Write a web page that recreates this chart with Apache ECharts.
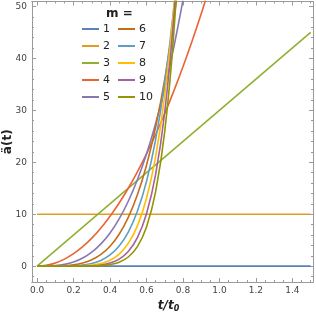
<!DOCTYPE html>
<html><head><meta charset="utf-8">
<script src="https://cdn.jsdelivr.net/npm/echarts@6/dist/echarts.min.js"></script>
<style>html,body{margin:0;padding:0;background:#fff}#c{width:316px;height:315px}</style>
</head><body><div id="c"></div>
<script>
const seriesNames = ['1','2','3','4','5','6','7','8','9','10'];
const colors = ['#5E81B5','#E19C24','#8FB032','#EB6235','#8778B3','#C56E1A','#5D9EC7','#FFBF00','#A5609D','#929600'];
const tFlat = [0, 1.5];
const m1 = [0, 0];
const m2 = [10, 10];
const m3 = [0, 45];
const t = [0,0.05,0.1,0.15,0.2,0.25,0.3,0.35,0.4,0.45,0.5,0.55,0.6,0.65,0.7,0.75,0.8,0.85,0.9,0.95];
const m4 = [0,0.15,0.6,1.35,2.4,3.75,5.4,7.35,9.6,12.15,15,18.15,21.6,25.35,29.4,33.75,38.4,43.35,48.6,54.15];
const m5 = [0,0.01,0.1,0.34,0.8,1.56,2.7,4.29,6.4,9.11,12.5,16.64,21.6,27.46,34.3,42.19,51.2];
const m6 = [0,0,0.02,0.08,0.24,0.59,1.22,2.25,3.84,6.15,9.38,13.73,19.44,26.78,36.0,47.46,61.4];
const m7 = [0,0,0,0.02,0.07,0.21,0.51,1.1,2.15,3.87,6.56,10.57,16.33,24.37,35.3,49.83,68.8];
const m8 = [0,0,0,0,0.02,0.07,0.2,0.52,1.15,2.33,4.38,7.75,13.06,21.1,32.94,49.83,73.4];
const m9 = [0,0,0,0,0.005,0.02,0.08,0.23,0.59,1.35,2.81,5.48,10.08,17.65,29.65,48.05,75.5];
const m10 = [0,0,0,0,0,0.007,0.03,0.1,0.3,0.76,1.76,3.77,7.56,14.34,25.94,45.05,75.5];
const xMajor = [0,0.2,0.4,0.6,0.8,1.0,1.2,1.4];
const xMinor = [0.05,0.1,0.15,0.25,0.3,0.35,0.45,0.5,0.55,0.65,0.7,0.75,0.85,0.9,0.95,1.05,1.1,1.15,1.25,1.3,1.35,1.45,1.5];
const yMajor = [0,10,20,30,40,50];
const yMinor = [-2,2,4,6,8,12,14,16,18,22,24,26,28,32,34,36,38,42,44,46,48];

const allY = [m1,m2,m3,m4,m5,m6,m7,m8,m9,m10];
const allX = [tFlat,tFlat,tFlat,t,t,t,t,t,t,t];

const XMIN=-0.028, XMAX=1.513, YMIN=-3.05, YMAX=50.95;
const frameLine = {color:'#9a9a9a',width:1};
function xAx(pos, ticks, len, labels){
  return {type:'value',position:pos,min:XMIN,max:XMAX,
    axisLine:{show:true,onZero:false,lineStyle:frameLine},
    axisTick:{show:true,inside:true,length:len,customValues:ticks,lineStyle:{color:'#9a9a9a'}},
    axisLabel:{show:labels,customValues:ticks,formatter:v=>v.toFixed(1),fontSize:9,color:'#444',margin:4,fontFamily:'DejaVu Sans'},
    splitLine:{show:false},
    name: labels? 't/t{s|0}':'', nameLocation:'middle', nameGap:15,
    nameTextStyle:{fontSize:12,fontWeight:'bold',fontStyle:'italic',color:'#222',fontFamily:'DejaVu Sans',padding:[0,8,0,0],
      rich:{s:{fontSize:8,fontWeight:'bold',verticalAlign:'bottom',padding:[6,0,0,0],color:'#222'}}}};
}
function yAx(pos, ticks, len, labels){
  return {type:'value',position:pos,min:YMIN,max:YMAX,
    axisLine:{show:true,onZero:false,lineStyle:frameLine},
    axisTick:{show:true,inside:true,length:len,customValues:ticks,lineStyle:{color:'#9a9a9a'}},
    axisLabel:{show:labels,customValues:ticks,fontSize:9,color:'#444',margin:5,fontFamily:'DejaVu Sans'},
    splitLine:{show:false},
    name: labels? 'ä(t)':'', nameLocation:'middle', nameGap:18, nameRotate:90, nameMoveOverlap:false,
    nameTextStyle:{fontSize:12,fontWeight:'bold',color:'#222',fontFamily:'DejaVu Sans'}};
}
const series = seriesNames.map((n,i)=>({
  name:n,type:'line',xAxisIndex:0,yAxisIndex:0,
  data: allY[i].map((v,j)=>[allX[i][j],v]),
  smooth:0.35, showSymbol:false, symbol:'none', clip:true,
  lineStyle:{color:colors[i],width:1.6}, itemStyle:{color:colors[i]}, z:2+i
}));
const chart = echarts.init(document.getElementById('c'),null,{renderer:'canvas'});
const legendCommon = {orient:'vertical',icon:'rect',itemWidth:17,itemHeight:2,itemGap:3,
  textStyle:{fontSize:11,color:'#222',lineHeight:14,fontFamily:'DejaVu Sans',padding:[0,0,0,-1]},padding:0};
chart.setOption({
  animation:false,
  backgroundColor:'#fff',
  grid:{left:32,right:3,top:1.5,bottom:33,containLabel:false,outerBoundsMode:'none'},
  title:{text:'m =',left:106,top:8,padding:0,textStyle:{fontSize:12,fontWeight:'bold',color:'#222',fontFamily:'DejaVu Sans'}},
  legend:[
    Object.assign({},legendCommon,{data:['1','2','3','4','5'],left:82,top:22}),
    Object.assign({},legendCommon,{data:['6','7','8','9','10'],left:118,top:22})
  ],
  xAxis:[xAx('bottom',xMajor,4,true),xAx('bottom',xMinor,2,false),xAx('top',xMajor,4,false),xAx('top',xMinor,2,false)],
  yAxis:[yAx('left',yMajor,4,true),yAx('left',yMinor,2,false),yAx('right',yMajor,4,false),yAx('right',yMinor,2,false)],
  series:series
});
</script></body></html>
